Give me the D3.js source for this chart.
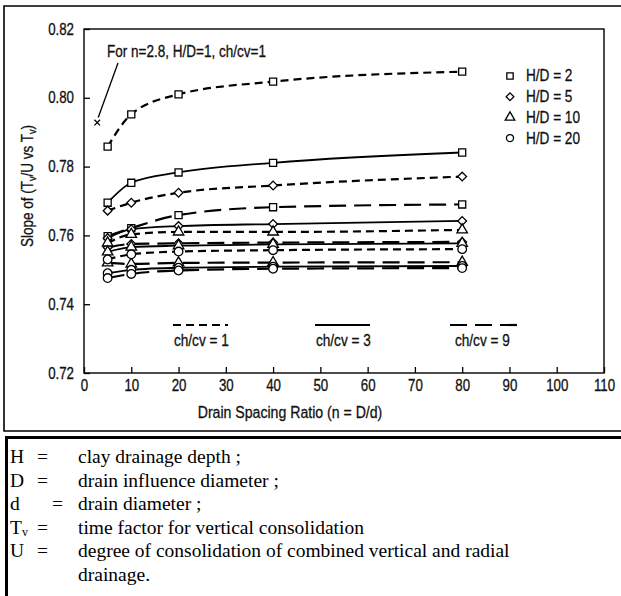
<!DOCTYPE html>
<html><head><meta charset="utf-8">
<script src="https://cdn.jsdelivr.net/npm/d3@7"></script>
<style>
body{margin:0;background:#fff;}
svg{display:block;}
.cf{font-family:"Liberation Sans",Arial,sans-serif;fill:#111;stroke:#111;stroke-width:0.3px;}
</style></head>
<body>
<svg id="c" width="621" height="596"></svg>
<script>
// ---------- data ----------
const nValues = [5, 10, 20, 40, 80];
const xTicks = [0,10,20,30,40,50,60,70,80,90,100,110];
const yTicks = [0.72,0.74,0.76,0.78,0.80,0.82];
const hdLabels = ["H/D = 2","H/D = 5","H/D = 10","H/D = 20"];
const cvLabels = ["ch/cv = 1","ch/cv = 3","ch/cv = 9"];

const hd2_cv1  = [0.7858, 0.7952, 0.8010, 0.8047, 0.8076];
const hd2_cv3  = [0.7695, 0.7753, 0.7783, 0.7811, 0.7841];
const hd2_cv9  = [0.7598, 0.7621, 0.7659, 0.7682, 0.7690];
const hd5_cv1  = [0.7672, 0.7695, 0.7724, 0.7745, 0.7771];
const hd5_cv3  = [0.7592, 0.7618, 0.7627, 0.7633, 0.7642];
const hd5_cv9  = [0.7565, 0.7575, 0.7577, 0.7579, 0.7581];
const hd10_cv1 = [0.7578, 0.7603, 0.7610, 0.7610, 0.7616];
const hd10_cv3 = [0.7552, 0.7566, 0.7570, 0.7574, 0.7577];
const hd10_cv9 = [0.7520, 0.7517, 0.7520, 0.7521, 0.7522];
const hd20_cv1 = [0.7530, 0.7545, 0.7553, 0.7557, 0.7560];
const hd20_cv3 = [0.7490, 0.7500, 0.7506, 0.7509, 0.7511];
const hd20_cv9 = [0.7476, 0.7488, 0.7498, 0.7503, 0.7505];

const specialPoint = {n: 2.8, slope: 0.7928, label: "For n=2.8, H/D=1, ch/cv=1"};

const series = [
  {hd:0, cv:0, v:hd2_cv1}, {hd:0, cv:1, v:hd2_cv3}, {hd:0, cv:2, v:hd2_cv9},
  {hd:1, cv:0, v:hd5_cv1}, {hd:1, cv:1, v:hd5_cv3}, {hd:1, cv:2, v:hd5_cv9},
  {hd:2, cv:0, v:hd10_cv1},{hd:2, cv:1, v:hd10_cv3},{hd:2, cv:2, v:hd10_cv9},
  {hd:3, cv:0, v:hd20_cv1},{hd:3, cv:1, v:hd20_cv3},{hd:3, cv:2, v:hd20_cv9}
];

// ---------- styles ----------
const dashes = ["8,5", null, "17,8"];
const K = 0.83; // horizontal condensing of the sans text
const symGen = [
  d3.symbol().type(d3.symbolSquare).size(50),
  d3.symbol().type(d3.symbolSquare).size(38),
  d3.symbol().type(d3.symbolTriangle).size(48),
  d3.symbol().type(d3.symbolCircle).size(58)
];
const symRot = [0,45,0,0];

function condense(sel, k){
  sel.each(function(){
    const t = d3.select(this);
    const x0 = +(t.attr("x")||0);
    const prev = t.attr("transform") || "";
    t.attr("transform", `${prev} translate(${x0*(1-k)},0) scale(${k},1)`);
  });
}

const svg = d3.select("#c");
const x = d3.scaleLinear().domain([0,110]).range([84,604]);
const y = d3.scaleLinear().domain([0.72,0.82]).range([373,29]);

// frames
svg.append("path").attr("d","M621,6H4V431H621").attr("fill","none").attr("stroke","#000").attr("stroke-width",1.6);
svg.append("path").attr("d","M621,437.5H6.5V596").attr("fill","none").attr("stroke","#000").attr("stroke-width",3);

// plot box
svg.append("rect").attr("x",x(0)).attr("y",y(0.82)).attr("width",x(110)-x(0)).attr("height",y(0.72)-y(0.82))
  .attr("fill","none").attr("stroke","#000").attr("stroke-width",1.4);

// axes
const ya = svg.append("g").attr("transform",`translate(${x(0)},0)`)
  .call(d3.axisLeft(y).tickValues(yTicks).tickFormat(d3.format(".2f")).tickSizeInner(-6).tickSizeOuter(0).tickPadding(10));
const xa = svg.append("g").attr("transform",`translate(0,${y(0.72)})`)
  .call(d3.axisBottom(x).tickValues(xTicks).tickFormat(d3.format("d")).tickSizeInner(-6).tickSizeOuter(0).tickPadding(7));
[ya,xa].forEach(g=>{
  g.select(".domain").remove();
  g.selectAll("line").attr("stroke","#000").attr("stroke-width",1.3);
  g.selectAll("text").attr("class","cf").attr("font-family",null).attr("font-size",null).style("font-size","16px");
  condense(g.selectAll("text"), K);
});

// axis titles
const xt = svg.append("text").attr("class","cf").attr("x",290).attr("y",418).attr("text-anchor","middle")
  .style("font-size","17px").text("Drain Spacing Ratio (n = D/d)");
condense(xt, K);
const yt = svg.append("text").attr("class","cf").attr("transform","translate(33,186) rotate(-90)")
  .attr("text-anchor","middle").style("font-size","16.5px");
yt.append("tspan").text("Slope of (T");
yt.append("tspan").attr("font-size","11px").attr("dy",3).text("v");
yt.append("tspan").attr("dy",-3).text("/U vs T");
yt.append("tspan").attr("font-size","11px").attr("dy",3).text("v");
yt.append("tspan").attr("dy",-3).text(")");
condense(yt, 0.82);

// lines
const line = d3.line().x((d,i)=>x(nValues[i])).y(d=>y(d)).curve(d3.curveMonotoneX);
svg.append("g").selectAll("path").data(series).join("path")
  .attr("d",d=>line(d.v)).attr("fill","none").attr("stroke","#000")
  .attr("stroke-width",d=>d.cv===1?1.8:2.2)
  .attr("stroke-dasharray",d=>dashes[d.cv]);

// markers
const mg = svg.append("g");
series.forEach(s=>{
  mg.selectAll(null).data(s.v).join("path")
    .attr("transform",(d,i)=>`translate(${x(nValues[i])},${y(d)}) rotate(${symRot[s.hd]})`)
    .attr("d",symGen[s.hd])
    .attr("fill","#fff").attr("stroke","#000").attr("stroke-width",1.3);
});

// special point
const sx = x(specialPoint.n), sy = y(specialPoint.slope);
svg.append("path").attr("transform",`translate(${sx},${sy})`)
  .attr("d",d3.symbol().type(d3.symbolTimes).size(22)).attr("fill","none").attr("stroke","#000").attr("stroke-width",1.3);
svg.append("line").attr("x1",118).attr("y1",63).attr("x2",sx+1).attr("y2",sy-5)
  .attr("stroke","#000").attr("stroke-width",1.3);
const an = svg.append("text").attr("class","cf").attr("x",107).attr("y",57).style("font-size","16.5px").text(specialPoint.label);
condense(an, 0.82);

// H/D legend
const lg = svg.append("g");
hdLabels.forEach((t,i)=>{
  const ly = 76 + i*20.7;
  lg.append("path").attr("transform",`translate(510,${ly}) rotate(${symRot[i]})`)
    .attr("d",symGen[i].size(i===1?30:40)())
    .attr("fill","#fff").attr("stroke","#000").attr("stroke-width",1.3);
  const lt = lg.append("text").attr("class","cf").attr("x",526).attr("y",ly+5.5).style("font-size","16px").text(t);
  condense(lt, 0.85);
});

// ch/cv legend
const cvPos = [[173,228],[315,370],[450,520]];
cvLabels.forEach((t,i)=>{
  const [a,b] = cvPos[i];
  svg.append("line").attr("x1",a).attr("x2",b).attr("y1",325).attr("y2",325)
    .attr("stroke","#000").attr("stroke-width",2.2).attr("stroke-dasharray",dashes[i]);
  const ct = svg.append("text").attr("class","cf").attr("x",a+1+(i===2?4:0)).attr("y",346).style("font-size","16px").text(t);
  condense(ct, 0.85);
});

// definitions
const dg = svg.append("g").style("font-family","'Liberation Serif','Times New Roman',serif").style("font-size","19.5px");
const rows = [
  {sym:"H", eq:37, txt:"clay drainage depth ;"},
  {sym:"D", eq:37, txt:"drain influence diameter ;"},
  {sym:"d", eq:52, txt:"drain diameter ;"},
  {sym:"T", sub:"v", eq:37, txt:"time factor for vertical consolidation"},
  {sym:"U", eq:37, txt:"degree of consolidation of combined vertical and radial"},
  {sym:"", eq:null, txt:"drainage."}
];
rows.forEach((r,i)=>{
  const by = 463 + i*23.5;
  if (r.sym){
    dg.append("text").attr("x",10).attr("y",by).text(r.sym);
    if (r.sub) dg.append("text").attr("x",22).attr("y",by+2).style("font-size","12px").text(r.sub);
  }
  if (r.eq!==null) dg.append("text").attr("x",r.eq).attr("y",by).text("=");
  dg.append("text").attr("x",78).attr("y",by).text(r.txt);
});
</script>
</body></html>
